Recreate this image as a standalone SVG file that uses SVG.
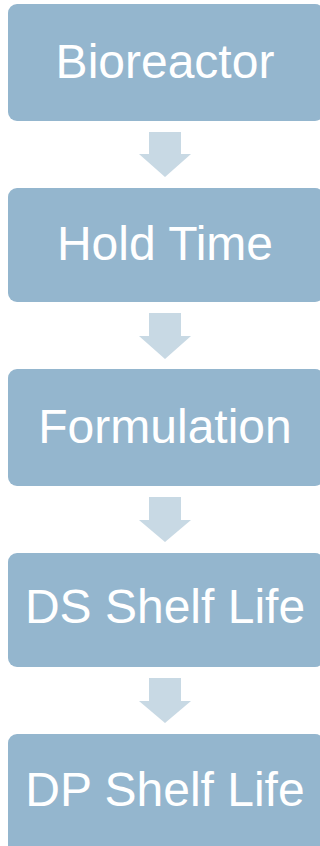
<svg xmlns="http://www.w3.org/2000/svg" width="320" height="846" viewBox="0 0 320 846">
<style>
.box{fill:#94B6CE}
.lbl{fill:#FFFFFF;font-family:"Liberation Sans",Arial,sans-serif;font-size:48px;text-anchor:middle}
.arr{fill:#C8D9E4}
</style>
<rect width="320" height="846" fill="#FFFFFF"/>
<g id="connectors">
<path class="arr" d="M149,132 H181 V154 H191 L165,177 L139,154 H149 Z"/>
<path class="arr" d="M149,313 H181 V336 H191 L165,359 L139,336 H149 Z"/>
<path class="arr" d="M149,497 H181 V520 H191 L165,542 L139,520 H149 Z"/>
<path class="arr" d="M149,678 H181 V701 H191 L165,723 L139,701 H149 Z"/>
</g>
<g id="bioreactor"><rect class="box" x="8" y="4" width="316" height="117" rx="9"/><text class="lbl" x="165" y="78">Bioreactor</text></g>
<g id="hold-time"><rect class="box" x="8" y="188" width="316" height="114" rx="9"/><text class="lbl" x="165" y="260">Hold Time</text></g>
<g id="formulation"><rect class="box" x="8" y="369" width="316" height="117" rx="9"/><text class="lbl" x="165" y="443">Formulation</text></g>
<g id="ds-shelf-life"><rect class="box" x="8" y="553" width="316" height="114" rx="9"/><text class="lbl" x="165" y="623">DS Shelf Life</text></g>
<g id="dp-shelf-life"><rect class="box" x="8" y="734" width="316" height="120" rx="9"/><text class="lbl" x="165" y="806">DP Shelf Life</text></g>
</svg>
